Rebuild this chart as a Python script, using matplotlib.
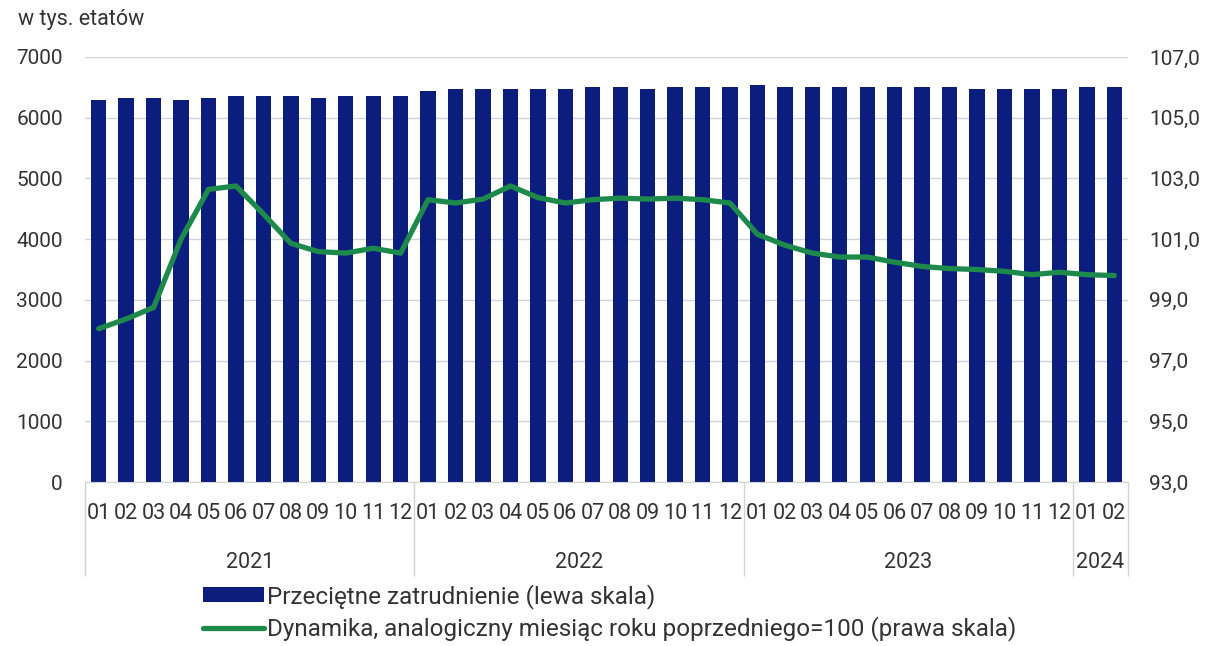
import matplotlib
matplotlib.use("Agg")
import matplotlib.pyplot as plt
from matplotlib.ticker import FuncFormatter, FixedLocator

plt.rcParams['font.family'] = ['Roboto', 'DejaVu Sans']

years = ["2021", "2022", "2023", "2024"]
months_per_year = [12, 12, 12, 2]
month_labels = ["01", "02", "03", "04", "05", "06", "07", "08", "09", "10", "11", "12"]

employment = [
    6290, 6320, 6320, 6290, 6320, 6350, 6350, 6350, 6320, 6350, 6350, 6350,
    6440, 6480, 6480, 6480, 6480, 6480, 6510, 6510, 6470, 6510, 6510, 6510,
    6540, 6510, 6510, 6510, 6510, 6510, 6510, 6510, 6480, 6480, 6480, 6480,
    6510, 6510,
]
dynamics = [
    98.05, 98.37, 98.75, 101.0, 102.64, 102.75, 101.83, 100.86, 100.59, 100.54, 100.7, 100.54,
    102.3, 102.19, 102.32, 102.75, 102.37, 102.19, 102.3, 102.35, 102.32, 102.35, 102.3, 102.19,
    101.16, 100.8, 100.54, 100.41, 100.41, 100.24, 100.1, 100.03, 100.0, 99.94, 99.83, 99.91,
    99.83, 99.8,
]

bar_label = "Przeciętne zatrudnienie (lewa skala)"
line_label = "Dynamika, analogiczny miesiąc roku poprzedniego=100 (prawa skala)"

BAR_C = "#0b1e7d"
LINE_C = "#1d8a4c"
TXT = "#333333"
GRID = "#d4d4d4"

tick_labels = []
for n in months_per_year:
    tick_labels += month_labels[:n]
x = list(range(len(employment)))

fig = plt.figure(figsize=(12.16, 6.46), dpi=100)
ax = fig.add_axes([85/1216, 1-482/646, (1128-85)/1216, (482-57)/646])
ax2 = ax.twinx()

bars = ax.bar(x, employment, width=0.56, color=BAR_C, label=bar_label, zorder=2)
ax.set_xlim(-0.5, len(x)-0.5)
ax.set_ylim(0, 7000)
ax.yaxis.set_major_locator(FixedLocator(range(0, 7001, 1000)))
ax.grid(axis='y', color=GRID, linewidth=1)
ax.set_axisbelow(True)
ax.set_xticks(x)
ax.set_xticklabels(tick_labels)
ax.tick_params(axis='x', length=0, pad=15, labelsize=15.5, colors=TXT)
ax.tick_params(axis='y', length=0, pad=16, labelsize=15, colors=TXT)

line, = ax2.plot(x, dynamics, color=LINE_C, linewidth=3.8, label=line_label,
                 solid_joinstyle='round', solid_capstyle='round')
ax2.set_ylim(93, 107)
ax2.yaxis.set_major_locator(FixedLocator([93, 95, 97, 99, 101, 103, 105, 107]))
ax2.yaxis.set_major_formatter(FuncFormatter(lambda v, p: f"{v:.1f}".replace(".", ",")))
ax2.tick_params(axis='y', length=0, pad=15, labelsize=15, colors=TXT)

for a in (ax, ax2):
    for s in a.spines.values():
        s.set_visible(False)
ax.spines['bottom'].set_visible(True)
ax.spines['bottom'].set_color(GRID)

# year separators and labels
xt = ax.get_xaxis_transform()
start = 0
bounds = [-0.5]
for yname, n in zip(years, months_per_year):
    center = start + (n - 1) / 2
    ax.text(center, -0.19, yname, transform=xt, ha='center', va='center',
            fontsize=15.5, color=TXT)
    start += n
    bounds.append(start - 0.5)
ax.vlines(bounds, -0.22, 0, transform=xt, colors=GRID, linewidth=1, clip_on=False)

fig.text(18/1216, 1-20/646, "w tys. etatów", fontsize=15.5, color=TXT, va='center', ha='left')

leg = fig.legend(handles=[bars, line], labels=[bar_label, line_label],
                 loc='upper left', bbox_to_anchor=(203/1216, 1-584/646),
                 frameon=False, fontsize=17.5, handlelength=2.5, handleheight=0.55,
                 handletextpad=0.12, labelspacing=0.3, borderaxespad=0, borderpad=0)
for t in leg.get_texts():
    t.set_color(TXT)

fig.savefig("out.png", dpi=100)
